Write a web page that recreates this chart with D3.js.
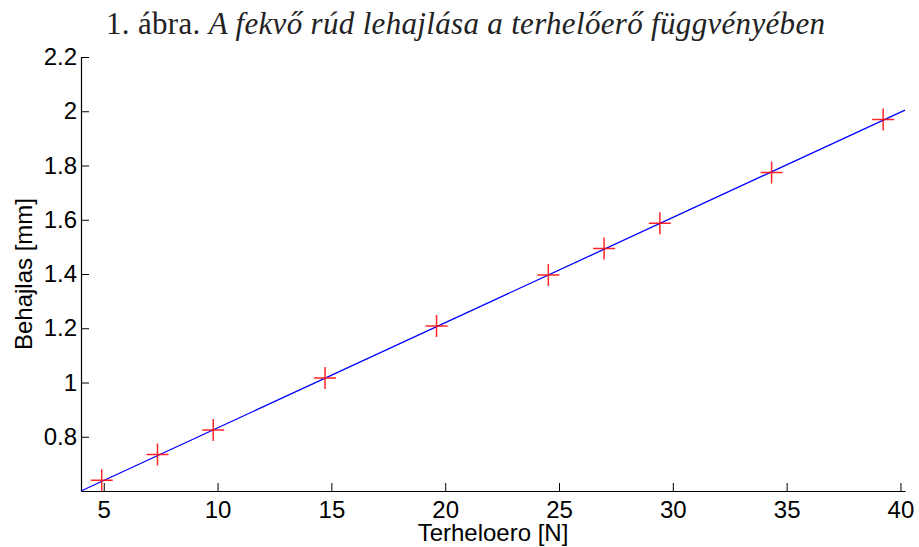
<!DOCTYPE html>
<html>
<head>
<meta charset="utf-8">
<script src="https://cdn.jsdelivr.net/npm/d3@7"></script>
<style>
  body { margin: 0; background: #fff; }
  .tick text { font-family: "Liberation Sans", Arial, sans-serif; font-size: 24px; fill: #000; }
</style>
</head>
<body>
<div id="chart"></div>
<script>
// measured points (load force [N] vs deflection [mm])
const force = [4.91, 7.36, 9.81, 14.72, 19.62, 24.53, 26.98, 29.43, 34.34, 39.24];
const deflection = [0.64, 0.735, 0.825, 1.017, 1.208, 1.396, 1.494, 1.587, 1.774, 1.970];

// fitted line end points
const fitX = [4, 40.2];
const fitY = [0.6, 2.004];

const xTicks = [5, 10, 15, 20, 25, 30, 35, 40];
const yTicks = [0.8, 1, 1.2, 1.4, 1.6, 1.8, 2, 2.2];

const W = 919, H = 547;
let margin = {top: 57, right: 14, bottom: 56, left: 81},
    width = W - margin.left - margin.right,
    height = H - margin.top - margin.bottom;

let root = d3.select("#chart")
    .append("svg")
    .attr("width", W)
    .attr("height", H);

// title
let title = root.append("text")
    .attr("x", 106)
    .attr("y", 34)
    .attr("textLength", 719)
    .attr("lengthAdjust", "spacing")
    .style("font-family", "'Liberation Serif', 'Times New Roman', serif")
    .style("font-size", "31px")
    .attr("fill", "#222");
title.append("tspan").text("1. ábra. ");
title.append("tspan").style("font-style", "italic")
    .text("A fekvő rúd lehajlása a terhelőerő függvényében");

let svg = root.append("g")
    .attr("transform", `translate(${margin.left}, ${margin.top})`);

const x = d3.scaleLinear()
    .domain([4, 40.2])
    .range([0, width]);

const y = d3.scaleLinear()
    .domain([0.6, 2.2])
    .range([height, 0]);

// X axis, ticks pointing inward
let xAxis = svg.append("g")
    .attr("transform", `translate(0, ${height})`)
    .call(d3.axisBottom(x).tickValues(xTicks).tickSizeInner(-8).tickSizeOuter(0).tickPadding(10));
xAxis.select(".domain").attr("stroke", "#000").attr("stroke-width", 1.2);
xAxis.selectAll(".tick line").attr("stroke", "#000");

// Y axis
let yAxis = svg.append("g")
    .call(d3.axisLeft(y).tickValues(yTicks).tickFormat(d3.format("~g")).tickSizeInner(-8).tickSizeOuter(0).tickPadding(4));
yAxis.select(".domain").attr("stroke", "#000").attr("stroke-width", 1.2);
yAxis.selectAll(".tick line").attr("stroke", "#000");

// axis labels
svg.append("text")
    .attr("x", width / 2)
    .attr("y", height + 50)
    .attr("text-anchor", "middle")
    .style("font-family", "'Liberation Sans', Arial, sans-serif")
    .style("font-size", "24px")
    .text("Terheloero [N]");

svg.append("text")
    .attr("transform", `translate(${32 - margin.left}, ${height / 2}) rotate(-90)`)
    .attr("text-anchor", "middle")
    .style("font-family", "'Liberation Sans', Arial, sans-serif")
    .style("font-size", "24px")
    .text("Behajlas [mm]");

// fitted line
svg.append("path")
    .datum(d3.zip(fitX, fitY))
    .attr("fill", "none")
    .attr("stroke", "#0000ff")
    .attr("stroke-width", 1.3)
    .attr("d", d3.line()
        .x(function(d) { return x(d[0]); })
        .y(function(d) { return y(d[1]); }));

// measured points as "+" markers
svg.selectAll("marks")
    .data(d3.zip(force, deflection))
    .join("path")
    .attr("transform", d => `translate(${x(d[0])}, ${y(d[1])})`)
    .attr("d", "M-11,0H11M0,-11V11")
    .attr("fill", "none")
    .attr("stroke", "#ff0000")
    .attr("stroke-width", 1.5)
    .attr("opacity", 0.85);
</script>
</body>
</html>
